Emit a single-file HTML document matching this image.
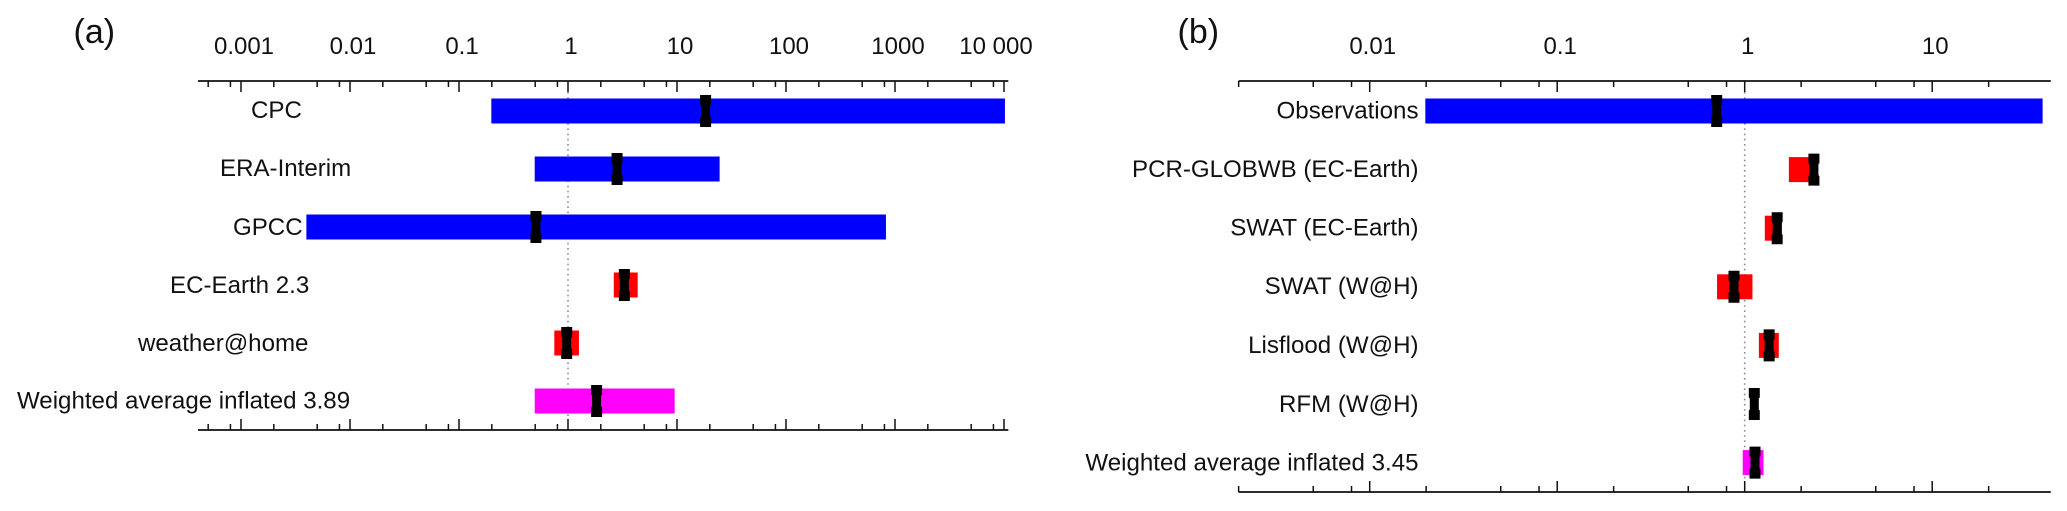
<!DOCTYPE html>
<html lang="en">
<head>
<meta charset="utf-8">
<title>Return ratio ranges (a) and (b)</title>
<style>
  html, body { margin: 0; padding: 0; background: #fff; }
  body { width: 2067px; height: 511px; overflow: hidden; }
  svg { display: block; }
  text { font-family: "Liberation Sans", Arial, sans-serif; fill: #111; }
  .row-label { font-size: 24.1px; }
  .tick-label { font-size: 24px; text-anchor: middle; }
  .panel-label { font-size: 34px; }
</style>
</head>
<body>
<svg id="chart" width="2067" height="511" viewBox="0 0 2067 511" xmlns="http://www.w3.org/2000/svg">
  <rect x="0" y="0" width="2067" height="511" fill="#fff"/>

  <g id="panel-a">
    <text class="panel-label" x="73.5" y="43">(a)</text>
    <text class="row-label" x="251" y="118">CPC</text>
    <text class="row-label" x="220" y="176">ERA-Interim</text>
    <text class="row-label" x="233" y="235">GPCC</text>
    <text class="row-label" x="170" y="293">EC-Earth 2.3</text>
    <text class="row-label" x="138" y="351">weather@home</text>
    <text class="row-label" x="17" y="408.5">Weighted average inflated 3.89</text>
  </g>

  <g id="panel-b">
    <text class="panel-label" x="1177.5" y="43">(b)</text>
    <g style="text-anchor:end">
      <text class="row-label" x="1418.5" y="118.5">Observations</text>
      <text class="row-label" x="1418.5" y="177">PCR-GLOBWB (EC-Earth)</text>
      <text class="row-label" x="1418.5" y="235.5">SWAT (EC-Earth)</text>
      <text class="row-label" x="1418.5" y="294">SWAT (W@H)</text>
      <text class="row-label" x="1418.5" y="353">Lisflood (W@H)</text>
      <text class="row-label" x="1418.5" y="412">RFM (W@H)</text>
      <text class="row-label" x="1418.5" y="470.5">Weighted average inflated 3.45</text>
    </g>
  </g>
</svg>

<script>
// Panel (a) data
const categoriesA = ['CPC', 'ERA-Interim', 'GPCC', 'EC-Earth 2.3', 'weather@home', 'Weighted average inflated 3.89'];
const lowA  = [0.198, 0.495, 0.00398, 2.63, 0.749, 0.495];
const highA = [10200, 24.6, 826, 4.36, 1.26, 9.52];
const bestA = [18.3, 2.82, 0.508, 3.29, 0.973, 1.83];
const kindA = ['obs', 'obs', 'obs', 'model', 'model', 'avg'];
const tickValuesA = [0.001, 0.01, 0.1, 1, 10, 100, 1000, 10000];
const tickLabelsA = ['0.001', '0.01', '0.1', '1', '10', '100', '1000', '10 000'];

// Panel (b) data
const categoriesB = ['Observations', 'PCR-GLOBWB (EC-Earth)', 'SWAT (EC-Earth)', 'SWAT (W@H)', 'Lisflood (W@H)', 'RFM (W@H)', 'Weighted average inflated 3.45'];
const lowB  = [0.0198, 1.72, 1.28, 0.712, 1.19, 1.09, 0.976];
const highB = [38.8, 2.34, 1.58, 1.10, 1.52, 1.16, 1.26];
const bestB = [0.709, 2.34, 1.49, 0.877, 1.35, 1.125, 1.135];
const kindB = ['obs', 'model', 'model', 'model', 'model', 'model', 'avg'];
const tickValuesB = [0.01, 0.1, 1, 10];
const tickLabelsB = ['0.01', '0.1', '1', '10'];

const minorMultipliers = [2, 5, 8];
const SVG_NS = 'http://www.w3.org/2000/svg';
const kindColors = { obs: '#0000ff', model: '#ff0000', avg: '#ff00ff' };

function slug(s) {
  return s.toLowerCase().replace(/[^a-z0-9]+/g, '-').replace(/^-|-$/g, '');
}

function make(parent, tag, attrs) {
  const el = document.createElementNS(SVG_NS, tag);
  for (const k in attrs) el.setAttribute(k, attrs[k]);
  parent.appendChild(el);
  return el;
}

function drawPanel(cfg) {
  const root = document.getElementById(cfg.id);
  const xScale = v => cfg.x1 + cfg.decade * Math.log10(v);
  const yScale = i => cfg.y0 + cfg.step * i;
  const xMin = xScale(cfg.domain[0]);
  const xMax = xScale(cfg.domain[1]);

  // reference line at ratio = 1
  const refLine = make(root, 'line', {
    x1: xScale(1), x2: xScale(1), y1: cfg.axisTop + 11, y2: cfg.axisBottom - 11,
    stroke: '#8c8c8c', 'stroke-width': 1.6, 'stroke-dasharray': '1.6 3.6'
  });
  
  

  // axes
  [cfg.axisTop, cfg.axisBottom].forEach((y, side) => {
    const dir = side === 0 ? 1 : -1;
    const sideName = side === 0 ? 'top' : 'bottom';
    const axis = make(root, 'line', {
      x1: xMin, x2: xMax, y1: y, y2: y, stroke: '#111', 'stroke-width': 1.7
    });
    
    

    cfg.ticks.forEach(t => {
      const major = make(root, 'line', {
        x1: xScale(t), x2: xScale(t), y1: y, y2: y + dir * 11, stroke: '#111', 'stroke-width': 1.5
      });
      
      
    });

    const firstDecade = Math.floor(Math.log10(cfg.domain[0]));
    const lastDecade = Math.ceil(Math.log10(cfg.domain[1]));
    for (let d = firstDecade; d <= lastDecade; d++) {
      minorMultipliers.forEach(m => {
        const v = m * Math.pow(10, d);
        if (v < cfg.domain[0] * 0.99 || v > cfg.domain[1]) return;
        const minor = make(root, 'line', {
          x1: xScale(v), x2: xScale(v), y1: y, y2: y + dir * 6, stroke: '#111', 'stroke-width': 1.5
        });
        
        
      });
    }
  });

  // tick labels
  cfg.ticks.forEach((t, i) => {
    const shift = cfg.labels[i].length > 5 ? -8 : 3;
    const label = make(root, 'text', { x: xScale(t) + shift, y: 54, class: 'tick-label' });
    label.textContent = cfg.labels[i];
    
    
  });

  // bars
  cfg.categories.forEach((name, i) => {
    const left = xScale(cfg.low[i]);
    const right = xScale(cfg.high[i]);
    const bar = make(root, 'rect', {
      x: left, y: yScale(i) - 12.5, width: right - left, height: 25, fill: kindColors[cfg.kind[i]]
    });
    
    
  });

  // best-estimate markers
  cfg.categories.forEach((name, i) => {
    const cx = xScale(cfg.best[i]);
    const cy = yScale(i);
    const d = 'M' + (cx - 5.5) + ' ' + (cy - 16) + 'h11v9.5l-1 1v11l1 1v9.5h-11v-9.5l1 -1v-11l-1 -1z';
    const marker = make(root, 'path', { d: d, fill: '#000' });
    
    
  });
}

drawPanel({
  id: 'panel-a', x1: 568, decade: 109, domain: [0.000403, 10960],
  y0: 111, step: 58, axisTop: 81, axisBottom: 430,
  categories: categoriesA, low: lowA, high: highA, best: bestA, kind: kindA,
  ticks: tickValuesA, labels: tickLabelsA
});
drawPanel({
  id: 'panel-b', x1: 1744.7, decade: 187.5, domain: [0.002, 42.9],
  y0: 111, step: 58.6, axisTop: 81, axisBottom: 492,
  categories: categoriesB, low: lowB, high: highB, best: bestB, kind: kindB,
  ticks: tickValuesB, labels: tickLabelsB
});
</script>
</body>
</html>
